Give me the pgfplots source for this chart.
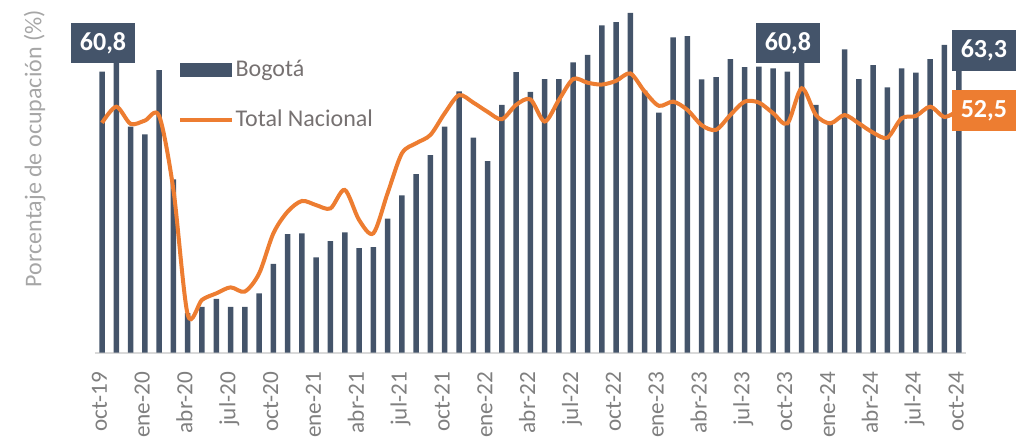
\documentclass[border=0pt]{standalone}
\usepackage{fontspec}
\setmainfont{Carlito}
\usepackage{pgfplots}
\usepackage{pgfplotstable}
\pgfplotsset{compat=1.18}
\definecolor{bogcol}{HTML}{44546A}
\definecolor{natcol}{HTML}{ED7D31}
\definecolor{axgray}{HTML}{D9D9D9}
\definecolor{txtgray}{HTML}{7F7F7F}
\definecolor{leggray}{HTML}{767171}
\definecolor{lblgray}{HTML}{A6A6A6}

% i = months since oct-19
\pgfplotstableread{
i  bog   tot
0  60.8  49.7
1  64.8  53.2
2  48.9  49.5
3  47.2  50.2
4  61.1  51.2
5  37.5  35.2
6  8.5   8.2
7  9.9   11.4
8  11.6  12.8
9  9.9   14.1
10 9.9   13.2
11 12.8  17.1
12 19.2  25.8
13 25.6  30.5
14 25.8  32.8
15 20.6  31.9
16 24.1  31.2
17 26.0  35.2
18 22.6  28.7
19 22.8  25.8
20 29.0  34.5
21 34.0  43.1
22 38.6  45.3
23 42.7  47.1
24 48.9  51.8
25 56.5  55.7
26 46.5  54.1
27 41.4  52.1
28 53.6  50.5
29 60.7  53.6
30 56.4  54.8
31 59.2  50.0
32 59.2  54.7
33 62.8  59.2
34 64.4  58.4
35 70.8  58.0
36 71.5  58.8
37 73.5  60.4
38 56.7  56.5
39 51.9  53.4
40 68.2  54.3
41 68.5  52.5
42 59.1  49.2
43 59.6  48.2
44 63.5  51.4
45 61.8  54.3
46 61.9  54.1
47 61.5  51.8
48 60.8  49.6
49 64.0  57.2
50 53.6  51.4
51 49.6  49.6
52 65.6  51.4
53 59.2  49.6
54 62.2  47.6
55 57.4  46.5
56 61.5  50.7
57 60.6  51.2
58 63.5  53.2
59 66.6  51.0
60 63.3  52.5
}\ocupacion

\begin{document}
\begin{tikzpicture}
\useasboundingbox (-47.45pt,-44.25pt) rectangle (462.05pt,176.25pt);
\begin{axis}[
  width=435.5pt, height=173.25pt, scale only axis,
  xmin=-0.5, xmax=60.5, ymin=0, ymax=75,
  axis x line*=bottom, axis y line*=left,
  x axis line style={-, draw=axgray, line width=1pt},
  y axis line style={draw=none},
  ytick=\empty,
  xtick={0,3,...,60},
  xticklabels={oct-19,ene-20,abr-20,jul-20,oct-20,ene-21,abr-21,jul-21,oct-21,ene-22,abr-22,jul-22,oct-22,ene-23,abr-23,jul-23,oct-23,ene-24,abr-24,jul-24,oct-24},
  major tick length=0pt,
  xticklabel style={rotate=90, anchor=mid east, inner sep=0pt,
    font=\fontsize{11.6}{13}\selectfont, text=txtgray},
  xticklabel shift=9.5pt,
  ylabel={Porcentaje de ocupación (\%)},
  ylabel style={at={(rel axis cs:-0.0693,0.5887)}, anchor=center,
    font=\fontsize{12}{14}\selectfont, text=lblgray},
  clip=false,
  legend cell align=left,
  legend style={at={(rel axis cs:0.0954,0.742)}, anchor=west,
    draw=none, fill=none, inner sep=0pt, row sep=13pt,
    font=\fontsize{12}{14}\selectfont, text=leggray,
    nodes={inner sep=0pt, text height=9pt, text depth=3pt},
    /tikz/every odd column/.style={column sep=0.6pt}},
]
\addplot[ybar, bar width=2.75pt, bar shift=0pt, fill=bogcol, draw=none,
  legend image code/.code={\fill[bogcol] (0pt,-3.5pt) rectangle (26pt,3.5pt);}]
  table[x=i, y=bog]{\ocupacion};
\addplot[smooth, natcol, line width=2pt,
  legend image code/.code={\draw[natcol, line width=2pt] (0pt,0pt) -- (26pt,0pt);}]
  table[x=i, y=tot]{\ocupacion};
\legend{Bogotá, Total Nacional}

\node[fill=bogcol, text=white, font=\bfseries\fontsize{13}{15}\selectfont,
  minimum width=32pt, minimum height=20.3pt, inner sep=0pt]
  at (axis cs:0.07,67.0) {60,8};
\node[fill=bogcol, text=white, font=\bfseries\fontsize{13}{15}\selectfont,
  minimum width=32pt, minimum height=20.3pt, inner sep=0pt]
  at (axis cs:48.04,67.0) {60,8};
\node[fill=bogcol, text=white, font=\bfseries\fontsize{13}{15}\selectfont,
  minimum width=32pt, minimum height=20.3pt, inner sep=0pt]
  at (axis cs:61.76,65.4) {63,3};
\node[fill=natcol, text=white, font=\bfseries\fontsize{13}{15}\selectfont,
  minimum width=32pt, minimum height=20.3pt, inner sep=0pt]
  at (axis cs:61.76,52.4) {52,5};
\end{axis}
\end{tikzpicture}
\end{document}
